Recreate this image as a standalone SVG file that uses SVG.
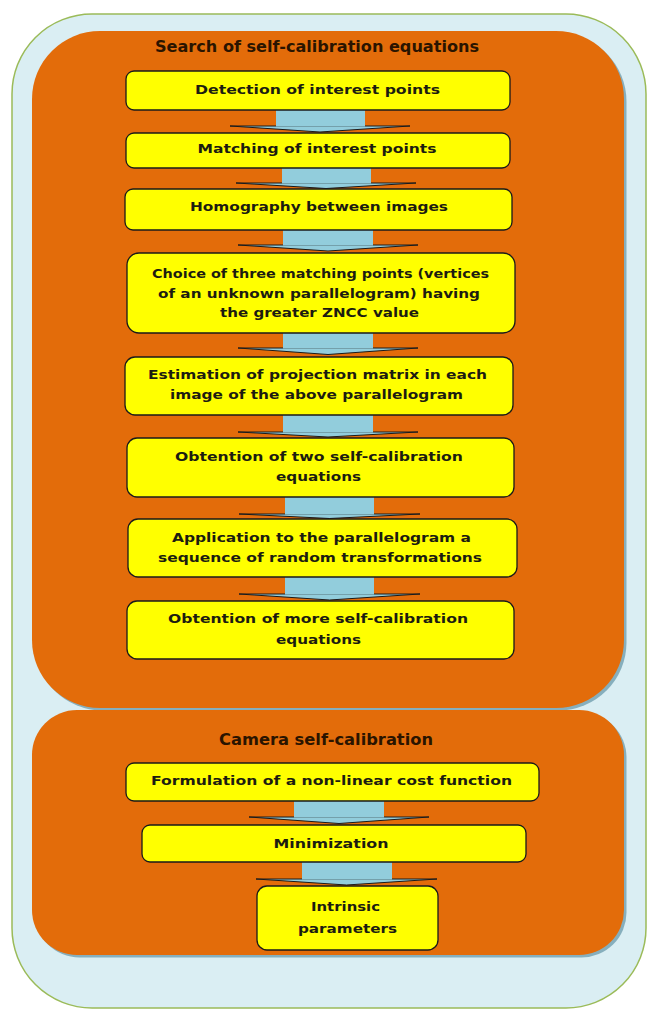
<svg xmlns="http://www.w3.org/2000/svg" width="648" height="1010" viewBox="0 0 648 1010">
<style>
.outer{fill:#DAEEF3;stroke:#9BBB59;stroke-width:1.5}
.sec{fill:#E36C0A}
.shd{fill:#86AFBD}
.box{fill:#FFFF00;stroke:#1a1a1a;stroke-width:1.3}
.t{font-family:"DejaVu Sans","Liberation Sans",sans-serif;font-weight:bold;font-size:13px;fill:#1c1c10;text-anchor:middle}
.h{font-family:"DejaVu Sans","Liberation Sans",sans-serif;font-weight:bold;font-size:15px;fill:#2a1400;text-anchor:middle}
.shaft{fill:#92CDDC}
.head{fill:#92CDDC;stroke:#1a1a1a;stroke-width:1}
</style>
<rect class="outer" x="12" y="14" width="634" height="994" rx="80" ry="80"/>
<g id="section1">
<rect class="shd" x="34.5" y="33.5" width="592" height="677" rx="68" ry="68"/>
<rect class="sec" x="32" y="31" width="592" height="677" rx="68" ry="68"/>
<text class="h" x="317" y="52" textLength="324" lengthAdjust="spacingAndGlyphs">Search of self-calibration equations</text>
</g>
<g id="section2">
<rect class="shd" x="34.5" y="712.5" width="592" height="245" rx="45" ry="45"/>
<rect class="sec" x="32" y="710" width="592" height="245" rx="45" ry="45"/>
<text class="h" x="326" y="745" textLength="214" lengthAdjust="spacingAndGlyphs">Camera self-calibration</text>
</g>
<g id="connectors">
<polygon class="head" points="230,126 410,126 320,132"/>
<rect class="shaft" x="276" y="110" width="89" height="16.5"/>
<polygon class="head" points="236,183 416,183 326,188.5"/>
<rect class="shaft" x="282" y="168" width="89" height="15.5"/>
<polygon class="head" points="238,245 418,245 328,251"/>
<rect class="shaft" x="283" y="230" width="90" height="15.5"/>
<polygon class="head" points="238,348 418,348 328,354.5"/>
<rect class="shaft" x="283" y="333" width="90" height="15.5"/>
<polygon class="head" points="238,432 418,432 328,437"/>
<rect class="shaft" x="283" y="415" width="90" height="17.5"/>
<polygon class="head" points="239,514 420,514 329.5,518.5"/>
<rect class="shaft" x="285" y="497" width="89" height="17.5"/>
<polygon class="head" points="239,594 420,594 329.5,600"/>
<rect class="shaft" x="285" y="577" width="89" height="17.5"/>
<polygon class="head" points="249,817 429,817 339,823.5"/>
<rect class="shaft" x="294" y="801" width="90" height="16.5"/>
<polygon class="head" points="256,879 437,879 346.5,885"/>
<rect class="shaft" x="302" y="862" width="90" height="17.5"/>
</g>
<g id="n1"><rect class="box" x="126" y="71" width="384" height="39" rx="8"/><text class="t" x="317.5" y="94" textLength="245" lengthAdjust="spacingAndGlyphs">Detection of interest points</text></g>
<g id="n2"><rect class="box" x="126" y="133" width="384" height="35" rx="8"/><text class="t" x="317" y="153" textLength="239" lengthAdjust="spacingAndGlyphs">Matching of interest points</text></g>
<g id="n3"><rect class="box" x="125" y="189" width="387" height="41" rx="8"/><text class="t" x="319" y="211" textLength="258" lengthAdjust="spacingAndGlyphs">Homography between images</text></g>
<g id="n4"><rect class="box" x="127" y="253" width="388" height="80" rx="12"/>
<text class="t" x="320.5" y="278" textLength="337" lengthAdjust="spacingAndGlyphs">Choice of three matching points (vertices</text>
<text class="t" x="319" y="298" textLength="322" lengthAdjust="spacingAndGlyphs">of an unknown parallelogram) having</text>
<text class="t" x="319.5" y="317" textLength="199" lengthAdjust="spacingAndGlyphs">the greater ZNCC value</text></g>
<g id="n5"><rect class="box" x="125" y="357" width="388" height="58" rx="10"/>
<text class="t" x="317.5" y="379" textLength="339" lengthAdjust="spacingAndGlyphs">Estimation of projection matrix in each</text>
<text class="t" x="316.5" y="399" textLength="293" lengthAdjust="spacingAndGlyphs">image of the above parallelogram</text></g>
<g id="n6"><rect class="box" x="127" y="438" width="387" height="59" rx="10"/>
<text class="t" x="319" y="461" textLength="288" lengthAdjust="spacingAndGlyphs">Obtention of two self-calibration</text>
<text class="t" x="318.5" y="481" textLength="85" lengthAdjust="spacingAndGlyphs">equations</text></g>
<g id="n7"><rect class="box" x="128" y="519" width="389" height="58" rx="10"/>
<text class="t" x="321.5" y="542" textLength="299" lengthAdjust="spacingAndGlyphs">Application to the parallelogram a</text>
<text class="t" x="320" y="562" textLength="324" lengthAdjust="spacingAndGlyphs">sequence of random transformations</text></g>
<g id="n8"><rect class="box" x="127" y="601" width="387" height="58" rx="10"/>
<text class="t" x="318" y="623" textLength="300" lengthAdjust="spacingAndGlyphs">Obtention of more self-calibration</text>
<text class="t" x="318.5" y="644" textLength="85" lengthAdjust="spacingAndGlyphs">equations</text></g>
<g id="n9"><rect class="box" x="126" y="763" width="413" height="38" rx="8"/><text class="t" x="331.5" y="785" textLength="361" lengthAdjust="spacingAndGlyphs">Formulation of a non-linear cost function</text></g>
<g id="n10"><rect class="box" x="142" y="825" width="384" height="37" rx="8"/><text class="t" x="331" y="848" textLength="115" lengthAdjust="spacingAndGlyphs">Minimization</text></g>
<g id="n11"><rect class="box" x="257" y="886" width="181" height="64" rx="10"/>
<text class="t" x="345.5" y="911" textLength="69" lengthAdjust="spacingAndGlyphs">Intrinsic</text>
<text class="t" x="347.5" y="933" textLength="99" lengthAdjust="spacingAndGlyphs">parameters</text></g>
</svg>
